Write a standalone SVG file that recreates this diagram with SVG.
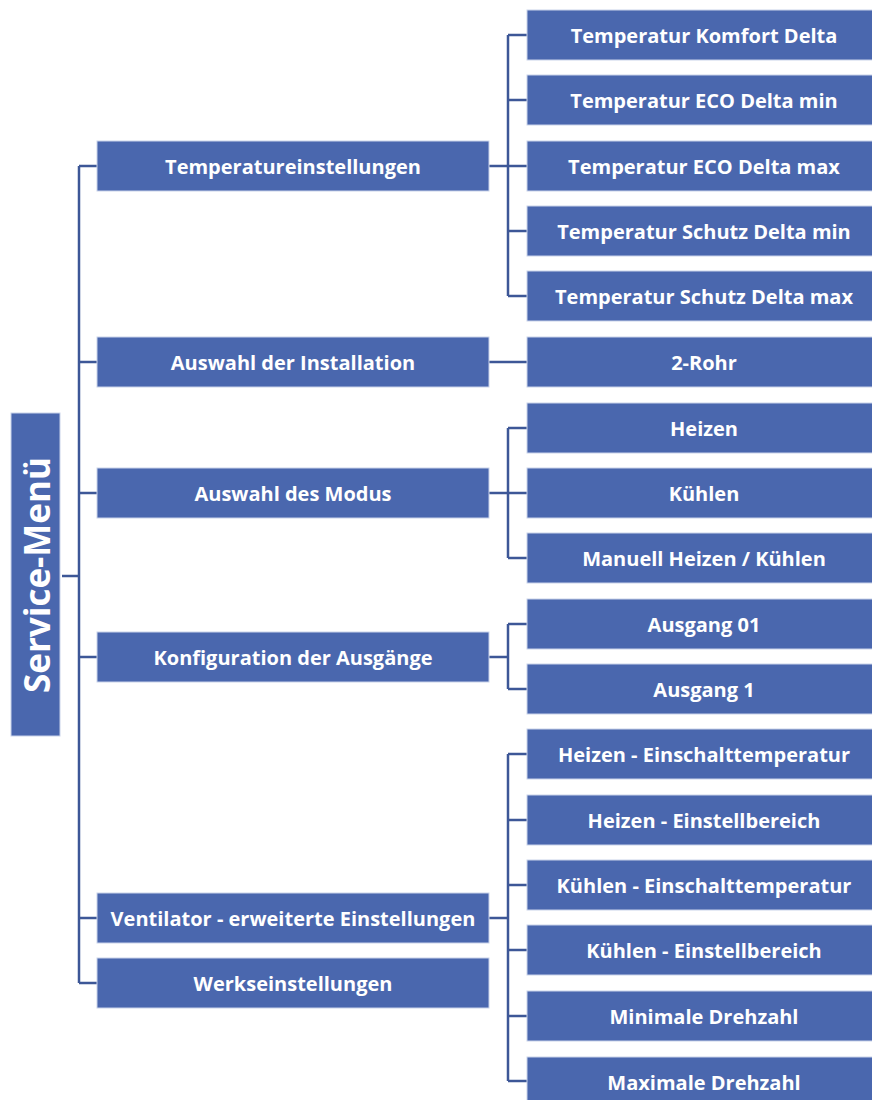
<svg xmlns="http://www.w3.org/2000/svg" width="872" height="1100" viewBox="0 0 872 1100">
<style>
.b{fill:#4a67ae;stroke:#c9d3ea;stroke-width:1}
.t{fill:#fff;font-family:"Open Sans","Liberation Sans",sans-serif;font-weight:bold;font-size:20px;text-anchor:middle;dominant-baseline:central}
.r{font-size:35px}
.c{fill:none;stroke:#3d5797;stroke-width:2.5}
</style>
<rect width="872" height="1100" fill="#fff"/>
<g id="connectors" class="c">
<path d="M62 576H79M79 166V983M79 166H97M79 362H97M79 493H97M79 657H97M79 918H97M79 983H97"/>
<path d="M489 166H508M508 35V296M508 35H527M508 100H527M508 166H527M508 231H527M508 296H527"/>
<path d="M489 362H527"/>
<path d="M489 493H508M508 428V558M508 428H527M508 493H527M508 558H527"/>
<path d="M489 657H508M508 624V689M508 624H527M508 689H527"/>
<path d="M489 918H508M508 754V1081M508 754H527M508 820H527M508 885H527M508 950H527M508 1016H527M508 1081H527"/>
</g>
<g id="root"><rect class="b" x="11" y="413" width="49" height="323"/><text class="t r" transform="translate(36 575) rotate(-90)">Service-Menü</text></g>
<g id="n1"><rect class="b" x="97" y="141" width="392" height="50"/><text class="t" x="293" y="166">Temperatureinstellungen</text></g>
<g id="n2"><rect class="b" x="97" y="337" width="392" height="50"/><text class="t" x="293" y="362">Auswahl der Installation</text></g>
<g id="n3"><rect class="b" x="97" y="468" width="392" height="50"/><text class="t" x="293" y="493">Auswahl des Modus</text></g>
<g id="n4"><rect class="b" x="97" y="632" width="392" height="50"/><text class="t" x="293" y="657">Konfiguration der Ausgänge</text></g>
<g id="n5"><rect class="b" x="97" y="893" width="392" height="50"/><text class="t" x="293" y="918">Ventilator - erweiterte Einstellungen</text></g>
<g id="n6"><rect class="b" x="97" y="958" width="392" height="50"/><text class="t" x="293" y="983">Werkseinstellungen</text></g>
<g id="c1"><rect class="b" x="527" y="10" width="346" height="50"/><text class="t" x="704" y="35">Temperatur Komfort Delta</text></g>
<g id="c2"><rect class="b" x="527" y="75" width="346" height="50"/><text class="t" x="704" y="100">Temperatur ECO Delta min</text></g>
<g id="c3"><rect class="b" x="527" y="141" width="346" height="50"/><text class="t" x="704" y="166">Temperatur ECO Delta max</text></g>
<g id="c4"><rect class="b" x="527" y="206" width="346" height="50"/><text class="t" x="704" y="231">Temperatur Schutz Delta min</text></g>
<g id="c5"><rect class="b" x="527" y="271" width="346" height="50"/><text class="t" x="704" y="296">Temperatur Schutz Delta max</text></g>
<g id="c6"><rect class="b" x="527" y="337" width="346" height="50"/><text class="t" x="704" y="362">2-Rohr</text></g>
<g id="c7"><rect class="b" x="527" y="403" width="346" height="50"/><text class="t" x="704" y="428">Heizen</text></g>
<g id="c8"><rect class="b" x="527" y="468" width="346" height="50"/><text class="t" x="704" y="493">Kühlen</text></g>
<g id="c9"><rect class="b" x="527" y="533" width="346" height="50"/><text class="t" x="704" y="558">Manuell Heizen / Kühlen</text></g>
<g id="c10"><rect class="b" x="527" y="599" width="346" height="50"/><text class="t" x="704" y="624">Ausgang 01</text></g>
<g id="c11"><rect class="b" x="527" y="664" width="346" height="50"/><text class="t" x="704" y="689">Ausgang 1</text></g>
<g id="c12"><rect class="b" x="527" y="729" width="346" height="50"/><text class="t" x="704" y="754">Heizen - Einschalttemperatur</text></g>
<g id="c13"><rect class="b" x="527" y="795" width="346" height="50"/><text class="t" x="704" y="820">Heizen - Einstellbereich</text></g>
<g id="c14"><rect class="b" x="527" y="860" width="346" height="50"/><text class="t" x="704" y="885">Kühlen - Einschalttemperatur</text></g>
<g id="c15"><rect class="b" x="527" y="925" width="346" height="50"/><text class="t" x="704" y="950">Kühlen - Einstellbereich</text></g>
<g id="c16"><rect class="b" x="527" y="991" width="346" height="50"/><text class="t" x="704" y="1016">Minimale Drehzahl</text></g>
<g id="c17"><rect class="b" x="527" y="1057" width="346" height="50"/><text class="t" x="704" y="1082">Maximale Drehzahl</text></g>
</svg>
